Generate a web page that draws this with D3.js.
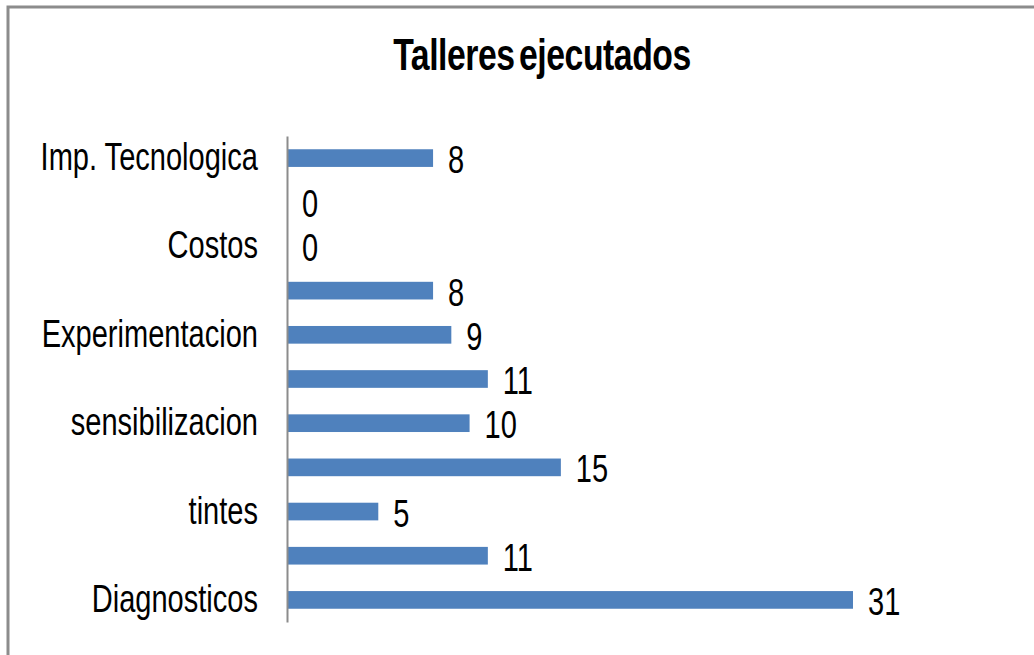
<!DOCTYPE html>
<html>
<head>
<meta charset="utf-8">
<script src="https://cdn.jsdelivr.net/npm/d3@7"></script>
<style>
  body { margin: 0; background: #fff; }
  svg { display: block; }
  .lbl { font-family: "Liberation Sans", Arial, sans-serif; font-size: 39px; fill: #000; }
  .title { font-family: "Liberation Sans", Arial, sans-serif; font-size: 45px; font-weight: bold; fill: #000; }
</style>
</head>
<body>
<svg id="chart" width="1034" height="655"></svg>
<script>
// categories from bottom to top (Excel hides every other label)
const categories = ["Diagnosticos", "", "tintes", "", "sensibilizacion", "", "Experimentacion", "", "Costos", "", "Imp. Tecnologica"];
const values = [31, 11, 5, 15, 10, 11, 9, 8, 0, 0, 8];
const title = "Talleres ejecutados";

const width = 1034;
const height = 655;
const plot = { left: 287, top: 136, bottom: 622, right: 853 };
const squeeze = 0.745; // narrow look of the original font

const svg = d3.select("#chart");

// chart frame (only top and left edges fall inside the picture)
svg.append("rect")
  .attr("x", 8)
  .attr("y", 7)
  .attr("width", 1100)
  .attr("height", 700)
  .attr("fill", "none")
  .attr("stroke", "#8c8c8c")
  .attr("stroke-width", 3);

const yScale = d3.scaleBand()
  .domain(d3.range(categories.length))
  .range([plot.bottom, plot.top])
  .paddingInner(0.6)
  .paddingOuter(0.3);

const xScale = d3.scaleLinear()
  .domain([0, d3.max(values)])
  .range([plot.left, plot.right]);

// title
svg.append("g")
  .attr("transform", `translate(542, 70) scale(0.75, 1)`)
  .append("text")
  .attr("class", "title")
  .attr("text-anchor", "middle")
  .attr("letter-spacing", "-0.6")
  .attr("word-spacing", "-6")
  .text(title);

// bars
svg.append("g")
  .selectAll("rect")
  .data(values)
  .enter()
  .append("rect")
  .attr("x", xScale(0))
  .attr("y", (d, i) => yScale(i))
  .attr("width", (d) => xScale(d) - xScale(0))
  .attr("height", yScale.bandwidth())
  .attr("fill", "#4f81bd");

// vertical axis line
const yAxis = d3.axisLeft(yScale).tickSize(0).tickFormat("");
svg.append("g")
  .attr("transform", `translate(${plot.left}, 0)`)
  .call(yAxis)
  .call((g) => g.select(".domain").attr("stroke", "#8c8c8c").attr("stroke-width", 2));

// category labels
svg.append("g")
  .selectAll("g")
  .data(categories)
  .enter()
  .append("g")
  .attr("transform", (d, i) =>
    `translate(${plot.left - 29}, ${yScale(i) + yScale.bandwidth() / 2 + 12}) scale(${squeeze}, 1)`)
  .append("text")
  .attr("class", "lbl")
  .attr("text-anchor", "end")
  .text((d) => d);

// value labels
svg.append("g")
  .selectAll("g")
  .data(values)
  .enter()
  .append("g")
  .attr("transform", (d, i) =>
    `translate(${xScale(d) + 15}, ${yScale(i) + yScale.bandwidth() / 2 + 15}) scale(${squeeze}, 1)`)
  .append("text")
  .attr("class", "lbl")
  .text((d) => d);
</script>
</body>
</html>
